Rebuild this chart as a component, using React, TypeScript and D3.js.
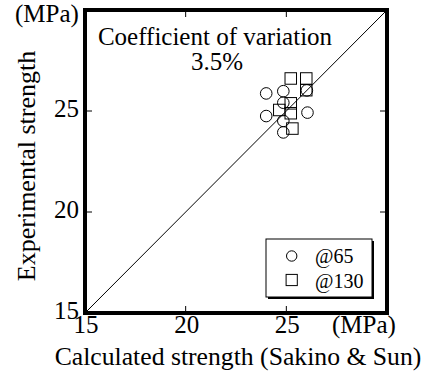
import React from "react";
import * as d3 from "d3";

// Calculated vs experimental strength (MPa)
const circleCalc = [24.0, 24.85, 24.85, 24.0, 26.05, 24.85, 24.85, 26.02];
const circleExp = [25.87, 25.98, 25.41, 24.75, 24.92, 24.51, 23.94, 26.02];
const squareCalc = [25.22, 25.99, 25.99, 25.22, 24.65, 25.22, 25.3];
const squareExp = [26.61, 26.61, 26.03, 25.38, 25.05, 24.89, 24.13];

const ticks = [15, 20, 25];
const tickLabels = ["15", "20", "25"];
const legendLabels = ["@65", "@130"];

const W = 427;
const H = 379;
const m = { left: 85, right: 387, top: 10, bottom: 313 };
const FONT = "'Liberation Serif', 'Times New Roman', serif";

export default function App() {
  const x = d3.scaleLinear().domain([15, 30]).range([m.left, m.right]);
  const y = d3.scaleLinear().domain([15, 30]).range([m.bottom, m.top]);
  const line = d3.line<[number, number]>().x((d) => x(d[0])).y((d) => y(d[1]));
  const sq = 11.5;

  return (
    <svg
      width={W}
      height={H}
      style={{ position: "absolute", left: 0, top: 0, background: "#fff" }}
      fontFamily={FONT}
    >
      {/* 1:1 reference line */}
      <path d={line([[15, 15], [30, 30]]) || ""} stroke="#000" strokeWidth={1} fill="none" />

      {/* inward ticks on all four sides */}
      {ticks.slice(1).map((t) => (
        <g key={t} stroke="#000" strokeWidth={1}>
          <line x1={x(t)} x2={x(t)} y1={m.bottom} y2={m.bottom - 7} />
          <line x1={x(t)} x2={x(t)} y1={m.top} y2={m.top + 7} />
          <line x1={m.left} x2={m.left + 7} y1={y(t)} y2={y(t)} />
          <line x1={m.right} x2={m.right - 7} y1={y(t)} y2={y(t)} />
        </g>
      ))}

      {/* data points */}
      {circleCalc.map((c, i) => (
        <circle key={"c" + i} cx={x(c)} cy={y(circleExp[i])} r={5.8} fill="none" stroke="#000" strokeWidth={1} />
      ))}
      {squareCalc.map((c, i) => (
        <rect
          key={"s" + i}
          x={x(c) - sq / 2}
          y={y(squareExp[i]) - sq / 2}
          width={sq}
          height={sq}
          fill="none"
          stroke="#000"
          strokeWidth={1}
        />
      ))}

      {/* frame */}
      <rect
        x={m.left}
        y={m.top}
        width={m.right - m.left}
        height={m.bottom - m.top}
        fill="none"
        stroke="#000"
        strokeWidth={4}
      />

      {/* tick labels */}
      {ticks.map((t, i) => (
        <text key={"yl" + t} x={79} y={y(t) + 6} textAnchor="end" fontSize={25}>
          {tickLabels[i]}
        </text>
      ))}
      {ticks.map((t, i) => (
        <text key={"xl" + t} x={x(t) + 1} y={333} textAnchor="middle" fontSize={25}>
          {tickLabels[i]}
        </text>
      ))}
      <text x={15} y={22} fontSize={25}>(MPa)</text>
      <text x={332} y={333} fontSize={25}>(MPa)</text>

      {/* axis titles */}
      <text x={238} y={365} textAnchor="middle" fontSize={25.7}>
        Calculated strength (Sakino &amp; Sun)
      </text>
      <text transform="translate(35,166) rotate(-90)" textAnchor="middle" fontSize={26}>
        Experimental strength
      </text>

      {/* annotation */}
      <text x={215} y={45} textAnchor="middle" fontSize={25}>Coefficient of variation</text>
      <text x={217} y={70} textAnchor="middle" fontSize={25}>3.5%</text>

      {/* legend with drop shadow */}
      <rect x={268} y={241} width={106} height={58} fill="#000" />
      <rect x={266} y={239} width={106} height={58} fill="#fff" stroke="#000" strokeWidth={1} />
      <circle cx={291.7} cy={256} r={5.2} fill="none" stroke="#000" strokeWidth={1} />
      <rect x={291.7 - 5.6} y={280 - 5.6} width={11.2} height={11.2} fill="none" stroke="#000" strokeWidth={1} />
      <text x={315} y={263} fontSize={20}>{legendLabels[0]}</text>
      <text x={315} y={288} fontSize={20}>{legendLabels[1]}</text>
    </svg>
  );
}
